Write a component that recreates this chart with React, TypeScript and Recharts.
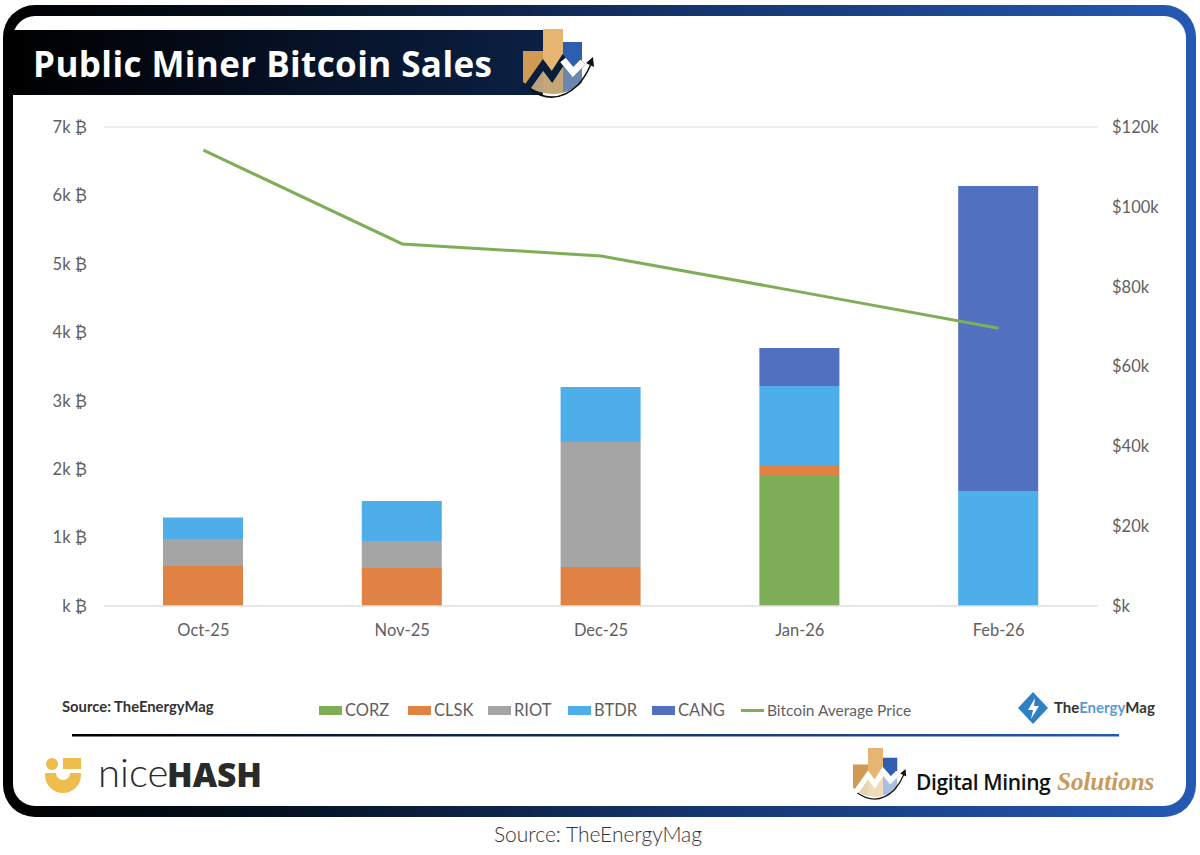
import React from "react";
import { ComposedChart, Bar, Line, XAxis, YAxis, CartesianGrid, Legend } from "recharts";

const categories = ["Oct-25", "Nov-25", "Dec-25", "Jan-26", "Feb-26"];
const corz = [0, 0, 0, 1900, 0];
const clsk = [585, 555, 570, 160, 0];
const riot = [394, 395, 1827, 0, 0];
const btdr = [314, 584, 803, 1155, 1680];
const cang = [0, 0, 0, 555, 4458];
const price = [114200, 90700, 87700, 78700, 69600];
const leftTicks = [0, 1000, 2000, 3000, 4000, 5000, 6000, 7000];
const rightTicks = [0, 20000, 40000, 60000, 80000, 100000, 120000];

const rows = categories.map((month, i) => ({
  month,
  CORZ: corz[i],
  CLSK: clsk[i],
  RIOT: riot[i],
  BTDR: btdr[i],
  CANG: cang[i],
  price: price[i],
}));

const FONT = "Lato, 'Open Sans', sans-serif";
const GREY = "#5f5f5f";
const COLORS = { CORZ: "#7dae57", CLSK: "#df8243", RIOT: "#a5a5a5", BTDR: "#4eaeea", CANG: "#5270c0" };
const LEGEND_SLOTS: Record<string, number> = { CORZ: 89, CLSK: 80, RIOT: 80, BTDR: 84, CANG: 89 };

const fmtLeft = (v: number) => (v === 0 ? "k ₿" : `${v / 1000}k ₿`);
const fmtRight = (v: number) => (v === 0 ? "$k" : `$${v / 1000}k`);

function LegendContent({ payload }: any) {
  return (
    <div style={{ display: "flex", alignItems: "center", fontFamily: FONT, fontSize: 16.5, color: GREY, whiteSpace: "nowrap" }}>
      {(payload || []).map((p: any) => {
        const isLine = p.type === "line";
        return (
          <div key={p.value} style={{ display: "flex", alignItems: "center", width: LEGEND_SLOTS[p.value] }}>
            <span
              style={{
                display: "inline-block",
                width: 23,
                height: isLine ? 3 : 9,
                background: p.color,
                marginRight: 3,
              }}
            />
            <span style={{ fontSize: isLine ? 15.5 : 16.5 }}>{p.value}</span>
          </div>
        );
      })}
    </div>
  );
}

function MinerLogo({ id, x, y, k, light }: { id: string; x: number; y: number; k: number; light: boolean }) {
  const under = "0,65 0,56 5,56 20,34 29,46 40,29 50,41 59,33 59,65";
  const zig = "3,60 20,36 29,48 40,31 50,43 60,33";
  return (
    <g transform={`translate(${x} ${y}) scale(${k})`}>
      <defs>
        <clipPath id={`${id}-round`}>
          <circle cx="30" cy="22" r="43" />
        </clipPath>
        <clipPath id={`${id}-under`}>
          <polygon points={under} />
        </clipPath>
      </defs>
      <g clipPath={`url(#${id}-round)`}>
        <rect x="0" y="22" width="20" height="43" fill="#d09a55" />
        <rect x="20" y="0" width="20" height="65" fill="#e6b572" />
        <polygon points="40,13 59,13 59,33 50,41 40,29" fill="#2f5db0" />
        <g clipPath={`url(#${id}-under)`}>
          <rect x="0" y="22" width="20" height="43" fill={light ? "#e8d3b0" : "#b9a27c"} />
          <rect x="20" y="0" width="20" height="65" fill={light ? "#f0dcbc" : "#c4a878"} />
          <rect x="40" y="13" width="19" height="52" fill={light ? "#a9bfdc" : "#6c86ae"} />
        </g>
      </g>
      <polyline points={zig} fill="none" stroke={light ? "#ffffff" : "#0a1c3c"} strokeWidth="7" />
      <polyline points="40,31 50,43 60,33" fill="none" stroke="#ffffff" strokeWidth="7" />
      <path d="M6,60 Q32,78 55,56 Q63,47 68,35" fill="none" stroke="#111" strokeWidth="1.6" />
      <polygon points="70,28 71,38 63,34" fill="#111" />
    </g>
  );
}

function Decor() {
  return (
    <svg width={1200} height={855} style={{ position: "absolute", left: 0, top: 0 }}>
      <defs>
        <linearGradient id="frameGrad" x1="0" x2="1" y1="0" y2="0">
          <stop offset="0" stopColor="#000000" />
          <stop offset="0.22" stopColor="#04101f" />
          <stop offset="0.55" stopColor="#143268" />
          <stop offset="1" stopColor="#2459b4" />
        </linearGradient>
        <linearGradient id="headGrad" x1="0" x2="1" y1="0" y2="0">
          <stop offset="0" stopColor="#000000" />
          <stop offset="1" stopColor="#0b2044" />
        </linearGradient>
        <linearGradient id="ruleGrad" x1="0" x2="1" y1="0" y2="0">
          <stop offset="0" stopColor="#000000" />
          <stop offset="0.5" stopColor="#12305f" />
          <stop offset="1" stopColor="#2459b4" />
        </linearGradient>
      </defs>
      <rect x="3" y="5" width="1193" height="812" rx="32" fill="url(#frameGrad)" />
      <rect x="13" y="16" width="1173" height="790" rx="22" fill="#ffffff" />
      <rect x="13" y="30" width="530" height="65" fill="url(#headGrad)" />
      <text x="33" y="77" fontFamily="'Open Sans', sans-serif" fontWeight="700" fontSize="35" letterSpacing="0.4" fill="#ffffff">
        Public Miner Bitcoin Sales
      </text>
      <MinerLogo id="top" x={523} y={29} k={1} light={false} />

      <text x="62" y="712" fontFamily={FONT} fontWeight="700" fontSize="14.8" fill="#333333">
        Source: TheEnergyMag
      </text>

      <polygon points="1033,692 1048,708 1033,724 1018,708" fill="#2f7fc4" />
      <polygon points="1035,698 1028,710 1033,710 1031,719 1039,706 1034,706" fill="#ffffff" />
      <text x="1054" y="713" fontFamily={FONT} fontWeight="700" fontSize="15" fill="#333333">
        The<tspan fill="#5a9bd5">Energy</tspan>Mag
      </text>

      <rect x="72" y="734" width="1047" height="2.5" fill="url(#ruleGrad)" />

      <circle cx="52" cy="764" r="6" fill="#efbc4e" />
      <rect x="63" y="758" width="18" height="11" fill="#efbc4e" />
      <path d="M45,773 H56 A7,7 0 0 0 70,773 H81 V775 A18,18 0 0 1 45,775 Z" fill="#efbc4e" />
      <text x="98" y="787" fontFamily="Lato, sans-serif" fontWeight="300" fontSize="40" fill="#2a2a2a">
        nice
      </text>
      <text x="167" y="787" fontFamily="'Open Sans', sans-serif" fontWeight="800" fontSize="33" fill="#2a2a2a" textLength="95" lengthAdjust="spacingAndGlyphs">
        HASH
      </text>

      <MinerLogo id="bottom" x={853} y={748} k={0.75} light />
      <text x="916" y="790" fontFamily="'Open Sans', sans-serif" fontWeight="600" fontSize="21" fill="#111111" letterSpacing="-0.4">
        Digital Mining
      </text>
      <text x="1057" y="790" fontFamily="'Liberation Serif', serif" fontWeight="700" fontStyle="italic" fontSize="25" fill="#c89a5c">
        Solutions
      </text>

      <text x="598" y="842" textAnchor="middle" fontFamily="Lato, sans-serif" fontWeight="300" fontSize="21" fill="#333333">
        Source: TheEnergyMag
      </text>
    </svg>
  );
}

export default function App() {
  const tick = { fontFamily: FONT, fontSize: 16.5, fill: GREY };
  return (
    <div style={{ position: "absolute", left: 0, top: 0, width: 1200, height: 855, background: "#ffffff", overflow: "hidden" }}>
      <Decor />
      <div style={{ position: "absolute", left: 0, top: 0 }}>
        <ComposedChart width={1200} height={855} data={rows} margin={{ top: 127, right: 42, bottom: 209, left: 44 }}>
          <CartesianGrid horizontal vertical={false} stroke="#e8e8e8" strokeWidth={1.5} />
          <XAxis dataKey="month" axisLine={{ stroke: "#e4e4e4", strokeWidth: 1.5 }} tickLine={false} tick={tick} tickMargin={12} height={40} interval={0} />
          <YAxis yAxisId="left" domain={[0, 7000]} ticks={leftTicks} tickFormatter={fmtLeft} axisLine={false} tickLine={false} tick={tick} tickMargin={11} width={60} />
          <YAxis yAxisId="right" orientation="right" domain={[0, 120000]} ticks={rightTicks} tickFormatter={fmtRight} axisLine={false} tickLine={false} tick={{ ...tick, textAnchor: "start" }} tickMargin={8} width={60} />
          <Legend
            layout="horizontal"
            verticalAlign="middle"
            align="center"
            itemSorter={null}
            content={<LegendContent />}
            wrapperStyle={{ position: "absolute", left: 319, top: 700, width: "auto" }}
          />
          <Bar yAxisId="left" dataKey="CORZ" stackId="a" fill={COLORS.CORZ} barSize={80} isAnimationActive={false} />
          <Bar yAxisId="left" dataKey="CLSK" stackId="a" fill={COLORS.CLSK} barSize={80} isAnimationActive={false} />
          <Bar yAxisId="left" dataKey="RIOT" stackId="a" fill={COLORS.RIOT} barSize={80} isAnimationActive={false} />
          <Bar yAxisId="left" dataKey="BTDR" stackId="a" fill={COLORS.BTDR} barSize={80} isAnimationActive={false} />
          <Bar yAxisId="left" dataKey="CANG" stackId="a" fill={COLORS.CANG} barSize={80} isAnimationActive={false} />
          <Line yAxisId="right" dataKey="price" name="Bitcoin Average Price" type="linear" stroke="#7fae58" strokeWidth={3} dot={false} activeDot={false} legendType="line" isAnimationActive={false} />
        </ComposedChart>
      </div>
    </div>
  );
}
